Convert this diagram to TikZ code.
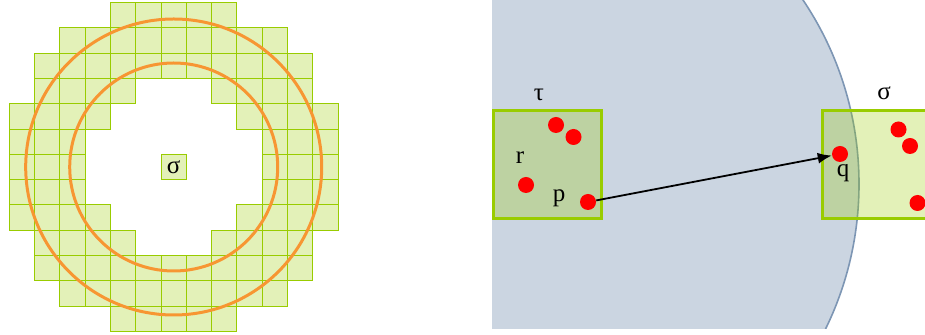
\documentclass[tikz,border=0pt]{standalone}
\usepackage{fontspec}
\setmainfont{Liberation Serif}
\usetikzlibrary{arrows.meta, positioning}
\definecolor{cellgreen}{RGB}{153,204,0}
\definecolor{ringorange}{RGB}{247,150,50}
\definecolor{slate}{RGB}{203,213,225}
\definecolor{slateedge}{RGB}{125,150,180}

\begin{document}
\begin{tikzpicture}[
    x=0.5pt, y=-0.5pt,
    cell/.style={draw=cellgreen, fill=cellgreen, fill opacity=0.28, line width=0.5pt},
    ring/.style={draw=ringorange, line width=1.5pt},
    patch/.style={draw=cellgreen, fill=cellgreen, fill opacity=0.28, line width=1.5pt},
    dot/.style={circle, fill=red, inner sep=0pt, minimum size=8pt},
    lbl/.style={font=\fontsize{12.5}{14}\selectfont, inner sep=1pt},
    arr/.style={-{Latex[length=7pt, width=5.5pt]}, line width=0.9pt}
  ]
  \useasboundingbox (0,0) rectangle (925,335);

  % left: cells hit by the ring
  \begin{scope}[shift={(173.7,167)}, x=12.65pt, y=12.65pt]
    \foreach \j/\a/\b in {6/-2/2, 5/-4/4, 4/-5/5, 3/-5/-2, 3/2/5, 2/-6/-3, 2/3/6,
                          1/-6/-4, 1/4/6, 0/-6/-4, 0/4/6, -1/-6/-4, -1/4/6,
                          -2/-6/-3, -2/3/6, -3/-5/-2, -3/2/5, -4/-5/5, -5/-4/4, -6/-2/2}
      \foreach \i in {\a,...,\b}
        \draw[cell] (\i-0.5,\j-0.5) rectangle ++(1,1);
  \end{scope}
  \node[cell, lbl, text opacity=1, inner sep=0pt, minimum size=12.65pt] (sigc) at (173.7,167) {σ};
  \draw[ring] (sigc.center) circle [radius=104];
  \draw[ring] (sigc.center) circle [radius=148];

  % right: the ball
  \begin{scope}
    \clip (492,0) rectangle (930,329);
    \draw[fill=slate, draw=slateedge, line width=0.8pt] (529,184) circle [radius=330];
  \end{scope}

  \node[patch, minimum width=54pt, minimum height=54pt] (taubox) at (547,164.5) {};
  \node[patch, minimum width=60pt, minimum height=54pt, anchor=west] (sigbox) at (821,164.5) {};

  \node[lbl] (tau) at (539,95) {τ};
  \node[lbl] (sig) at (884,93) {σ};

  \node[dot] (t1) at (556,125) {};
  \node[dot] (t2) at (573.5,137) {};
  \node[dot] (r) at (526,185) {};
  \node[dot] (p) at (588,202) {};
  \node[lbl] (rl) at (520,158) {r};
  \node[lbl] (pl) at (559,198) {p};

  \node[dot] (q) at (840,154) {};
  \node[dot] (s1) at (898.5,129.5) {};
  \node[dot] (s2) at (910,146) {};
  \node[dot] (s3) at (917.5,203) {};
  \node[lbl] (ql) at (843,173) {q};

  \draw[arr] (p) -- (q);
\end{tikzpicture}
\end{document}
